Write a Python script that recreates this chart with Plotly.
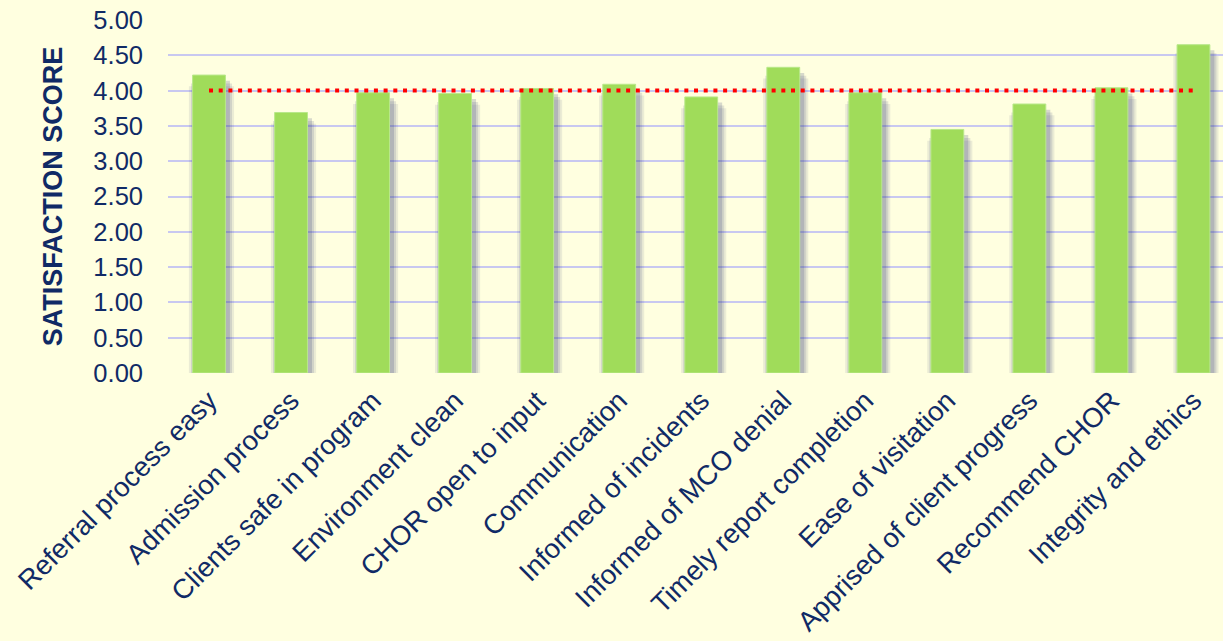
import plotly.graph_objects as go

# Survey items and their average satisfaction scores
categories = [
    "Referral process easy",
    "Admission process",
    "Clients safe in program",
    "Environment clean",
    "CHOR open to input",
    "Communication",
    "Informed of incidents",
    "Informed of MCO denial",
    "Timely report completion",
    "Ease of visitation",
    "Apprised of client progress",
    "Recommend CHOR",
    "Integrity and ethics",
]
scores = [4.22, 3.69, 3.97, 3.96, 4.03, 4.09, 3.91, 4.33, 3.97, 3.45, 3.81, 4.04, 4.65]
target = 4.00

y_ticks = [0.0, 0.5, 1.0, 1.5, 2.0, 2.5, 3.0, 3.5, 4.0, 4.5, 5.0]

NAVY = "#102a66"
GREEN = "#a0dc5a"
BG = "#ffffe0"
GRID = "#c8c8f0"
FONT = "Liberation Sans, Arial, sans-serif"

BAR_W = 0.40

fig = go.Figure()

# soft drop shadow behind each bar: a few stacked translucent layers
for grow, drop, alpha in [(0.15, 0.16, 0.10), (0.10, 0.12, 0.14), (0.05, 0.08, 0.20)]:
    w = BAR_W + grow
    fig.add_trace(go.Bar(
        x=categories,
        y=scores,
        base=[-drop] * len(scores),
        width=w,
        offset=-w / 2 + 0.03,
        marker=dict(color=f"rgba(55,65,120,{alpha})", line=dict(width=0)),
        hoverinfo="skip",
        showlegend=False,
    ))

# main bars
fig.add_trace(go.Bar(
    x=categories,
    y=scores,
    width=BAR_W,
    offset=-BAR_W / 2,
    marker=dict(color=GREEN, line=dict(color="#b8e88a", width=1)),
    showlegend=False,
))

# target reference line
fig.add_trace(go.Scatter(
    x=[categories[0], categories[-1]],
    y=[target, target],
    mode="lines",
    line=dict(color="#ff0000", width=4, dash="4px,5.7px"),
    hoverinfo="skip",
    showlegend=False,
))

fig.update_layout(
    width=1223,
    height=641,
    margin=dict(l=168, r=0, t=20, b=268, autoexpand=False),
    paper_bgcolor=BG,
    plot_bgcolor=BG,
    barmode="overlay",
    font=dict(family=FONT, color=NAVY, size=25),
)

fig.update_xaxes(
    type="category",
    range=[-0.5, 12.36],
    tickangle=-45,
    tickfont=dict(size=27.5, color=NAVY, family=FONT),
    ticklabelstandoff=5,
    showgrid=False,
    zeroline=False,
    showline=False,
    ticks="",
    automargin=False,
)

fig.update_yaxes(
    range=[0, 5],
    tickvals=y_ticks,
    tickformat=".2f",
    tickfont=dict(size=25.5, color=NAVY, family=FONT),
    ticklabelstandoff=24,
    showgrid=True,
    gridcolor=GRID,
    gridwidth=2,
    zeroline=False,
    showline=False,
    title=dict(
        text="<b>SATISFACTION SCORE</b>",
        font=dict(size=27, color=NAVY, family=FONT),
        standoff=22,
    ),
    automargin=False,
)

fig.write_html("out.html")
